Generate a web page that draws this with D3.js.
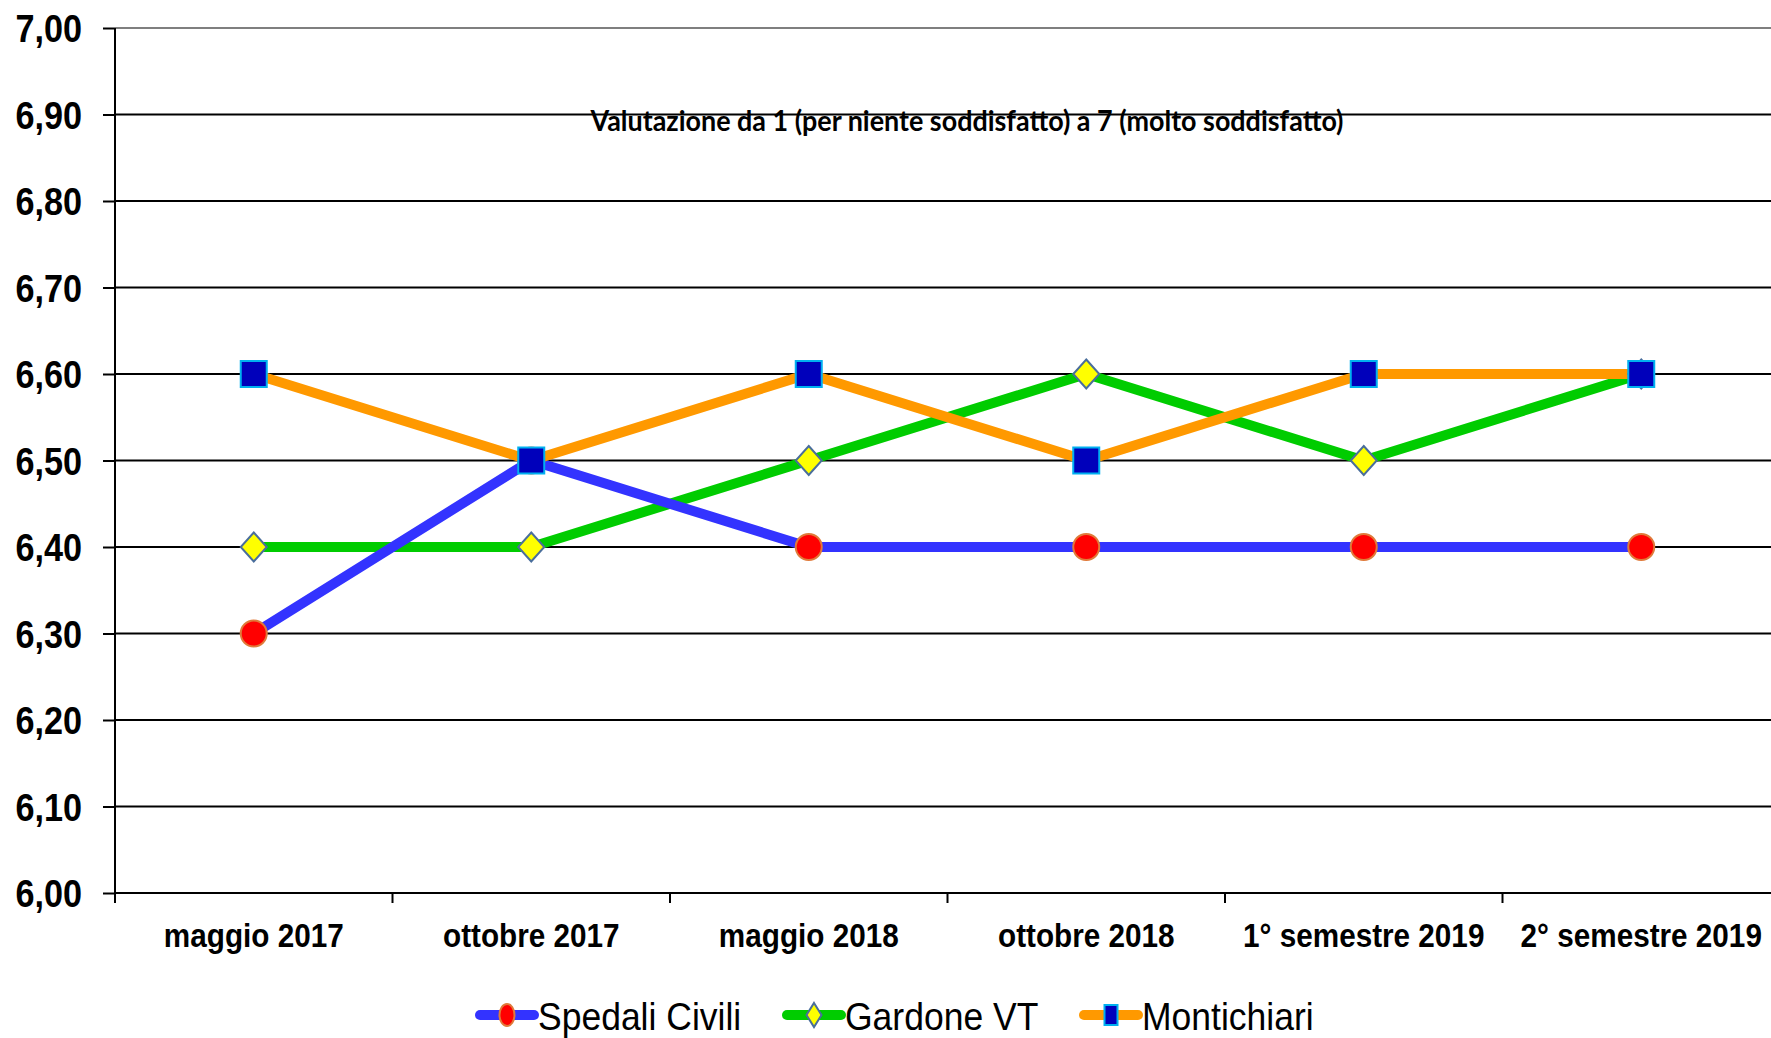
<!DOCTYPE html>
<html>
<head>
<meta charset="utf-8">
<script src="https://cdn.jsdelivr.net/npm/d3@7"></script>
<style>
  body { margin: 0; background: #fff; }
  svg { display: block; font-family: "Liberation Sans", Arial, sans-serif; }
</style>
</head>
<body>
<div id="graph"></div>
<script>
// categories on the x axis
var periods = ["maggio 2017", "ottobre 2017", "maggio 2018", "ottobre 2018", "1° semestre 2019", "2° semestre 2019"];

// series values
var spedaliCivili = [6.30, 6.50, 6.40, 6.40, 6.40, 6.40];
var gardoneVT = [6.40, 6.40, 6.50, 6.60, 6.50, 6.60];
var montichiari = [6.60, 6.50, 6.60, 6.50, 6.60, 6.60];

// y ticks
var yTicks = [6.0, 6.1, 6.2, 6.3, 6.4, 6.5, 6.6, 6.7, 6.8, 6.9, 7.0];

var chartTitle = "Valutazione da 1 (per niente soddisfatto) a 7 (molto soddisfatto)";

var width = 1771;
var height = 1038;

var series = [
    { name: "Spedali Civili", values: spedaliCivili, line: "#3333ff", marker: "circle", fill: "#ff0000", stroke: "#e07a3a" },
    { name: "Gardone VT", values: gardoneVT, line: "#00cc00", marker: "diamond", fill: "#ffff00", stroke: "#4a6e9c" },
    { name: "Montichiari", values: montichiari, line: "#ff9900", marker: "square", fill: "#0000bb", stroke: "#00b0f0" }
];

// draw order: green under blue, orange on top
var drawOrder = [1, 0, 2];

var x = d3.scaleBand()
    .domain(periods)
    .range([115, 115 + 6 * 277.5]);

var y = d3.scaleLinear()
    .domain([6, 7])
    .range([893, 28]);

var fmt = function(d) { return d3.format(".2f")(d).replace(".", ","); };

var svg = d3.select("#graph")
    .append("svg")
    .attr("width", width)
    .attr("height", height);

// squeeze text horizontally, the original font is narrower
function squeeze(sel, k) {
    sel.each(function() {
        var w = this.getComputedTextLength();
        d3.select(this).attr("textLength", w * k).attr("lengthAdjust", "spacingAndGlyphs");
    });
}

// gridlines
svg.append("g")
    .selectAll("line")
    .data(yTicks.slice(1))
    .enter()
    .append("line")
    .attr("x1", 115)
    .attr("x2", width)
    .attr("y1", d => y(d))
    .attr("y2", d => y(d))
    .attr("stroke", d => d === 7 ? "#7f7f7f" : "#000")
    .attr("stroke-width", 2);

// y axis
var yAxis = svg.append("g")
    .attr("transform", "translate(115,0)")
    .call(d3.axisLeft(y).tickValues(yTicks).tickSize(12).tickFormat(fmt));
yAxis.select(".domain").attr("stroke", "#000").attr("stroke-width", 2)
    .attr("d", "M0," + y(7) + "V" + (y(6) + 10));
yAxis.selectAll(".tick line").attr("stroke", "#000").attr("stroke-width", 2);
yAxis.selectAll(".tick text")
    .attr("x", -33)
    .attr("dy", "0.36em")
    .style("font-family", "'Liberation Sans', Arial, sans-serif")
    .style("font-size", "38px")
    .style("font-weight", "bold")
    .attr("fill", "#000")
    .call(squeeze, 0.9);

// x axis
var xAxis = svg.append("g")
    .attr("transform", "translate(0," + y(6) + ")")
    .call(d3.axisBottom(x).tickSize(0));
xAxis.select(".domain").attr("stroke", "#000").attr("stroke-width", 2)
    .attr("d", "M115,0H" + width);
// narrow the labels with a scale so their box stays inside the page
xAxis.selectAll(".tick text")
    .attr("x", 0)
    .attr("y", 54)
    .attr("dy", 0)
    .attr("transform", "scale(0.9,1)")
    .style("font-family", "'Liberation Sans', Arial, sans-serif")
    .style("font-size", "33px")
    .style("font-weight", "bold")
    .attr("fill", "#000");

// band boundary ticks
svg.append("g")
    .selectAll("line")
    .data(periods)
    .enter()
    .append("line")
    .attr("x1", d => x(d))
    .attr("x2", d => x(d))
    .attr("y1", y(6))
    .attr("y2", y(6) + 10)
    .attr("stroke", "#000")
    .attr("stroke-width", 2);

// title inside the plot
svg.append("text")
    .attr("x", 967)
    .attr("y", 131)
    .attr("text-anchor", "middle")
    .style("font-family", "Lato, 'Open Sans', sans-serif")
    .style("font-size", "29px")
    .style("font-weight", "bold")
    .attr("textLength", 753)
    .attr("lengthAdjust", "spacingAndGlyphs")
    .text(chartTitle);

var line = d3.line()
    .x((d, i) => x(periods[i]) + x.bandwidth() / 2)
    .y(d => y(d));

var gLines = svg.append("g");
drawOrder.forEach(function(k) {
    var s = series[k];
    gLines.append("path")
        .datum(s.values)
        .attr("d", line)
        .attr("fill", "none")
        .attr("stroke", s.line)
        .attr("stroke-width", 10)
        .attr("stroke-linejoin", "round");
});

function marker(g, type, fill, stroke, w, h) {
    if (type === "circle") {
        g.append("ellipse").attr("rx", w / 2).attr("ry", h / 2);
    } else if (type === "diamond") {
        g.append("path").attr("d", "M0," + (-h / 2) + "L" + (w / 2) + ",0L0," + (h / 2) + "L" + (-w / 2) + ",0Z");
    } else {
        g.append("rect").attr("x", -w / 2).attr("y", -h / 2).attr("width", w).attr("height", h);
    }
    g.selectAll("*").attr("fill", fill).attr("stroke", stroke).attr("stroke-width", 2);
}

var gMarkers = svg.append("g");
drawOrder.forEach(function(k) {
    var s = series[k];
    s.values.forEach(function(v, i) {
        var g = gMarkers.append("g")
            .attr("transform", "translate(" + (x(periods[i]) + x.bandwidth() / 2) + "," + y(v) + ")");
        if (s.marker === "diamond") marker(g, s.marker, s.fill, s.stroke, 26, 29);
        else marker(g, s.marker, s.fill, s.stroke, 26, 26);
    });
});

// legend
var legendX = [480, 787, 1084];
var legend = svg.append("g");
series.forEach(function(s, i) {
    var g = legend.append("g").attr("transform", "translate(" + legendX[i] + ",1015)");
    g.append("line")
        .attr("x1", 0).attr("x2", 54)
        .attr("stroke", s.line)
        .attr("stroke-width", 10)
        .attr("stroke-linecap", "round");
    var m = g.append("g").attr("transform", "translate(27,0)");
    if (s.marker === "circle") marker(m, s.marker, s.fill, s.stroke, 15, 22);
    else if (s.marker === "diamond") marker(m, s.marker, s.fill, s.stroke, 15, 24);
    else marker(m, s.marker, s.fill, s.stroke, 13, 20);
    g.append("text")
        .attr("x", 58)
        .attr("y", 15)
        .style("font-family", "'Liberation Sans', Arial, sans-serif")
        .style("font-size", "39px")
        .attr("fill", "#000")
        .text(s.name)
        .call(squeeze, 0.91);
});
</script>
</body>
</html>
